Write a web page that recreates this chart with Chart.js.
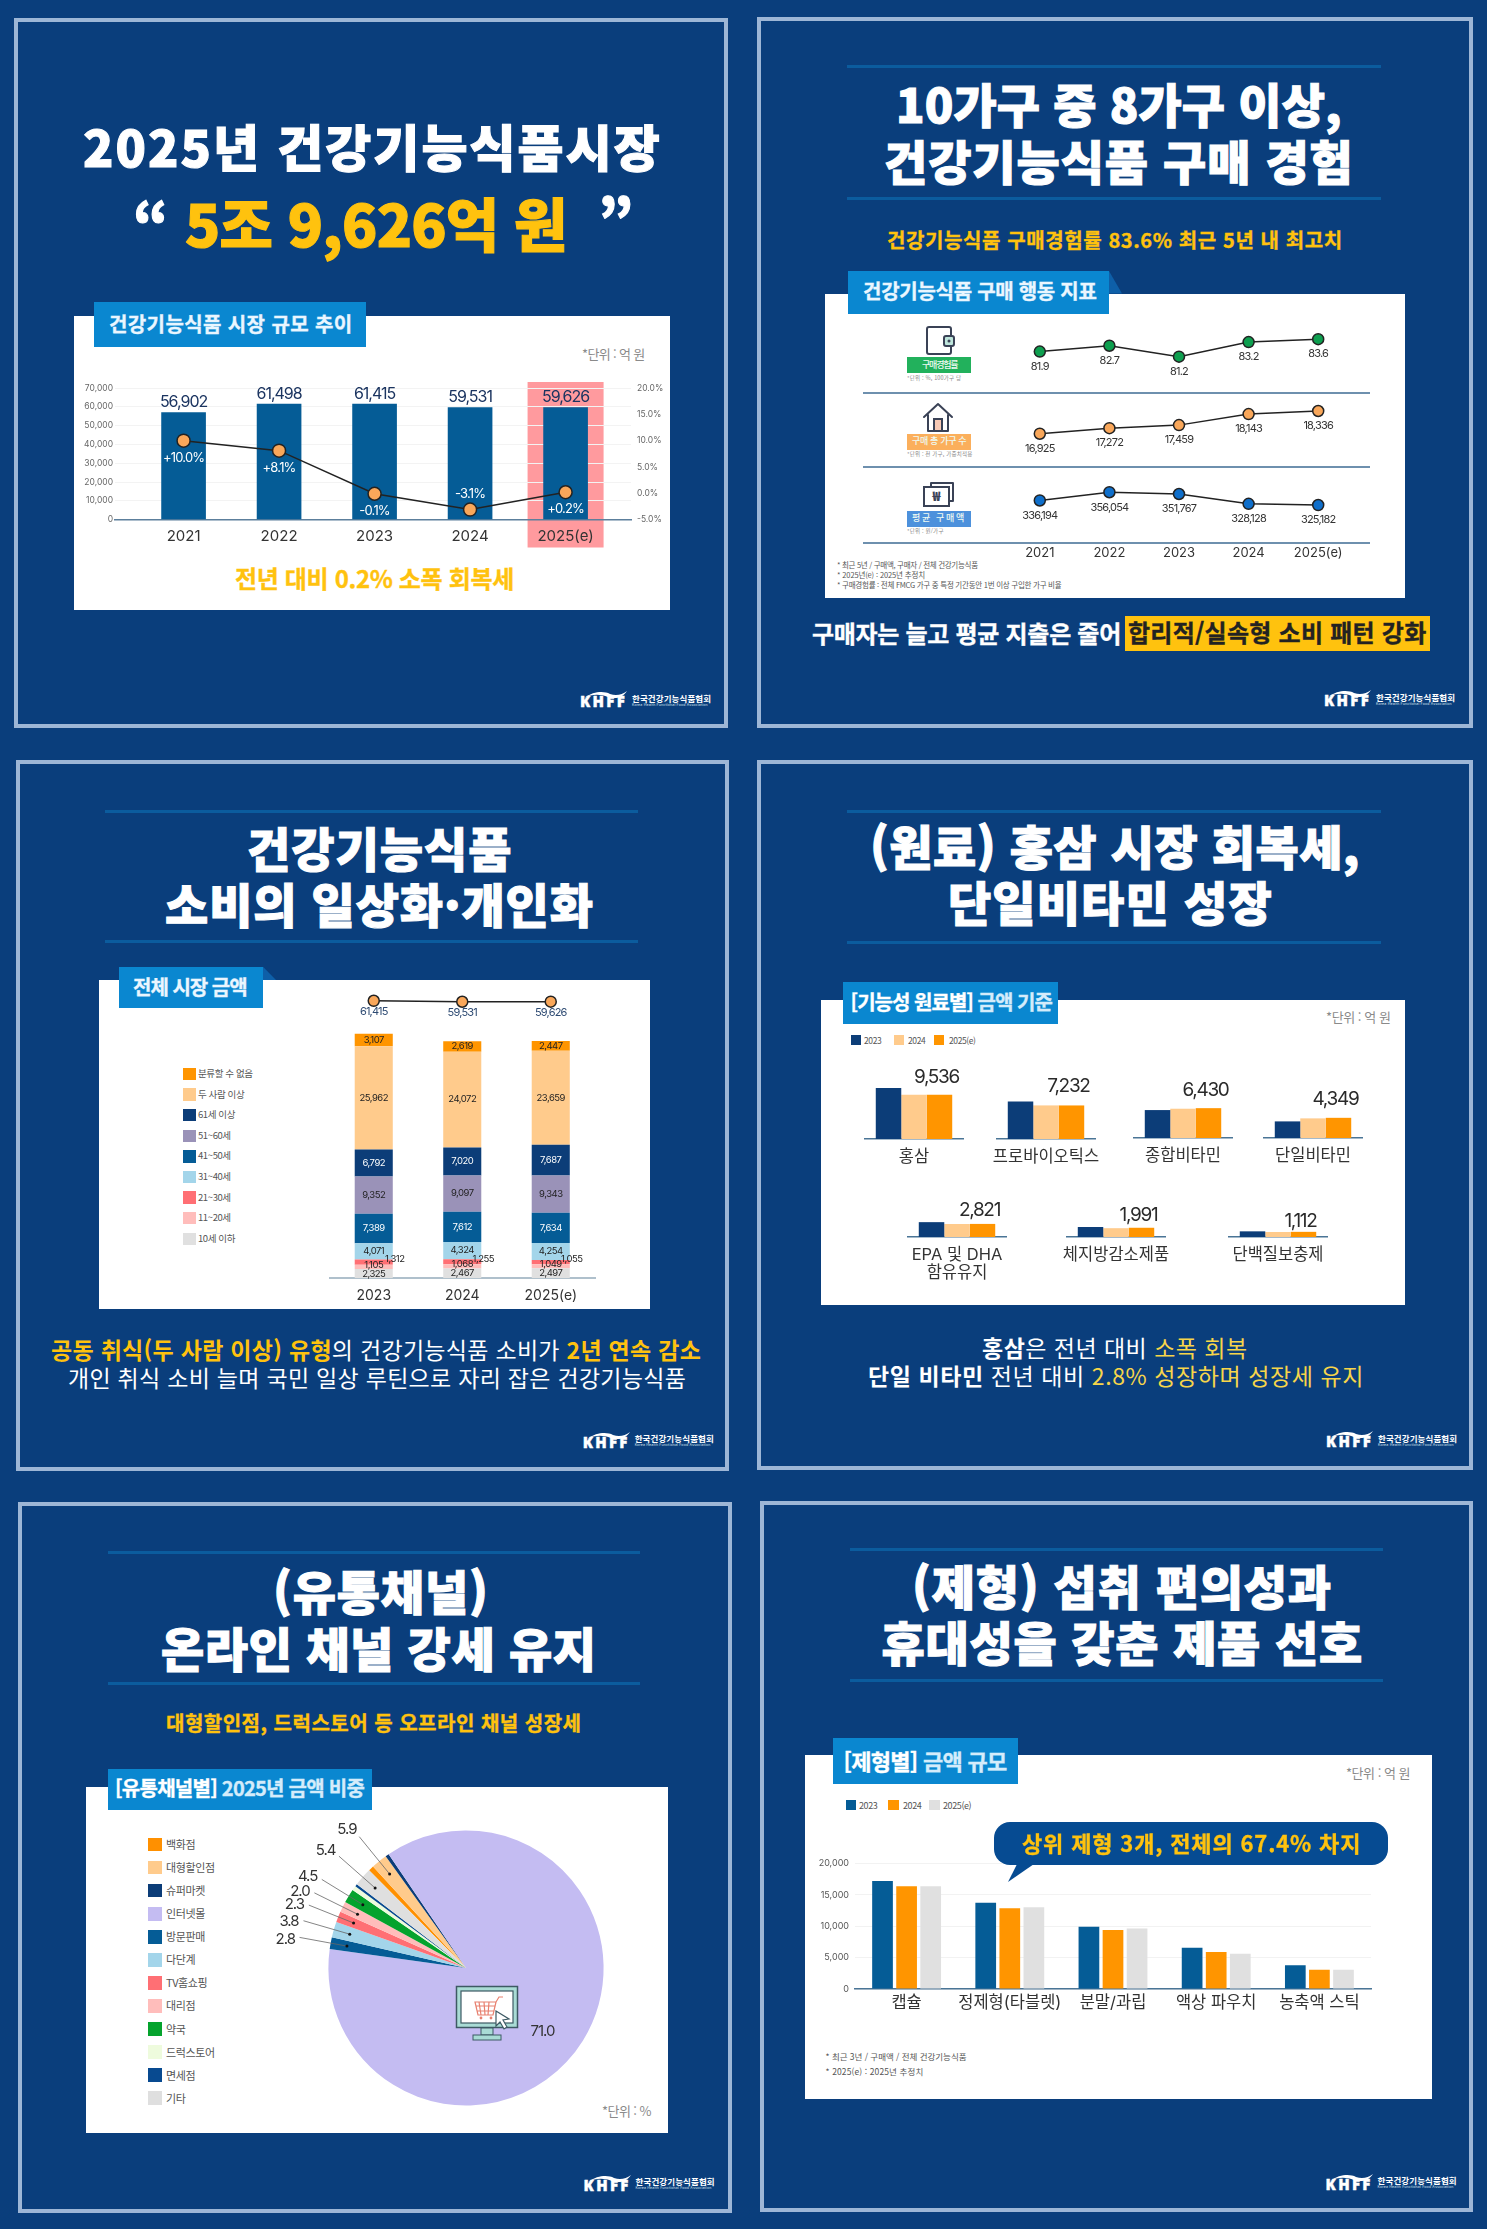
<!DOCTYPE html>
<html lang="ko">
<head>
<meta charset="utf-8">
<title>건강기능식품 시장</title>
<script src="https://cdn.jsdelivr.net/npm/chart.js@4"></script>
<style>
  html, body { margin: 0; padding: 0; background: #0a3e7c; overflow: hidden; }
  #page { position: relative; width: 1487px; height: 2229px; overflow: hidden; background: #0a3e7c;
          font-family: Inter, "Noto Sans CJK KR", sans-serif; }
  #page > * { position: absolute; }
  .t { white-space: nowrap; line-height: 1; }
  .kr { font-family: "Noto Sans CJK KR", sans-serif; }
</style>
</head>
<body>
<div id="page"></div>
<script>
// panel 1: market size
const marketYears = ['2021', '2022', '2023', '2024', '2025(e)']
const marketValues = [56902, 61498, 61415, 59531, 59626]
const marketGrowth = [10.0, 8.1, -0.1, -3.1, 0.2]

// panel 2: purchase behaviour
const behaviourYears = ['2021', '2022', '2023', '2024', '2025(e)']
const purchaseRate = [81.9, 82.7, 81.2, 83.2, 83.6]
const purchaseHouseholds = [16925, 17272, 17459, 18143, 18336]
const purchaseAmount = [336194, 356054, 351767, 328128, 325182]

// panel 3: market by household age, legend order
const ageYears = ['2023', '2024', '2025(e)']
const ageTotals = [61415, 59531, 59626]
const ageNames = ['분류할 수 없음', '두 사람 이상', '61세 이상', '51~60세', '41~50세', '31~40세', '21~30세', '11~20세', '10세 이하']
const ageUnknown = [3107, 2619, 2447]
const ageTwoPlus = [25962, 24072, 23659]
const age61 = [6792, 7020, 7687]
const age51 = [9352, 9097, 9343]
const age41 = [7389, 7612, 7634]
const age31 = [4071, 4324, 4254]
const age21 = [1312, 1255, 1055]
const age11 = [1105, 1068, 1049]
const age10 = [2325, 2467, 2497]

const ingredientNames = ['홍삼', '프로바이오틱스', '종합비타민', '단일비타민', ['EPA 및 DHA', '함유유지'], '체지방감소제품', '단백질보충제']
const ingredient2023 = [11000, 8100, 6020, 3580, 3200, 2150, 1220]
const ingredient2024 = [9540, 7240, 6310, 4230, 2800, 1900, 1080]
const ingredient2025 = [9536, 7232, 6430, 4349, 2821, 1991, 1112]

// panel 5: channels. The picture's slices are not proportional to the printed shares,
// so the printed numbers and the measured slice angles are kept apart
const channelNames = ['백화점', '대형할인점', '슈퍼마켓', '인터넷몰', '방문판매', '다단계', 'TV홈쇼핑', '대리점', '약국', '드럭스토어', '면세점', '기타']
const channelShares = [null, 5.9, null, 71.0, 2.8, 3.8, 2.3, 2.0, 4.5, null, null, 5.4]
const channelSliceDegrees = [2.3, 6.8, 1.5, 312.3, 5.0, 6.6, 4.6, 4.5, 5.9, 2.0, 1.0, 7.7]
const channelColors = ['#ff9000', '#ffcb8c', '#0c3d78', '#c4bcf2', '#055c96', '#a3d5ea', '#ff6f74', '#ffbdbb', '#05a32d', '#eefbdd', '#084a90', '#dfdfdf']

// panel 6: product forms
const formNames = ['캡슐', '정제형(타블렛)', '분말/과립', '액상 파우치', '농축액 스틱']
const form2023 = [17200, 13750, 9900, 6550, 3800]
const form2024 = [16350, 12850, 9400, 5900, 3050]
const form2025 = [16350, 13000, 9650, 5600, 3050]

const FONT = 'Inter, "Noto Sans CJK KR", sans-serif'
const NAVY = '#0c3d78', BLUE = '#055c96', ORANGE = '#ff9500', PEACH = '#ffcb8c', GREY = '#e0e0e0'
const YELLOW = '#ffc20e', TAB = '#0a87d0', RULE = '#0b5c9e', FRAME = '#9db6d6'
const page = document.getElementById('page')
const fmt = v => v.toLocaleString('en-US')

Chart.defaults.font.family = FONT
Chart.defaults.animation = false
Chart.defaults.layout.autoPadding = false

// draws the printed numbers next to the marks, ds.valueLabels holds the texts
Chart.register({
  id: 'valueLabels',
  afterDatasetsDraw(chart) {
    const c = chart.ctx
    chart.data.datasets.forEach((ds, i) => {
      const o = ds.valueLabels
      if (!o) return
      chart.getDatasetMeta(i).data.forEach((el, k) => {
        if (o.texts[k] == null) return
        const base = o.center ? (el.y + el.base) / 2 : el.y
        const dy = Array.isArray(o.dy) ? o.dy[k] : (o.dy || 0)
        c.save()
        c.font = `${o.weight || 400} ${o.size}px ${FONT}`
        c.letterSpacing = (o.spacing === undefined ? -0.8 : o.spacing) + 'px'
        c.fillStyle = Array.isArray(o.color) ? o.color[k] : o.color
        c.textAlign = 'center'
        c.textBaseline = 'middle'
        c.fillText(o.texts[k], el.x + (o.dx || 0), base + dy)
        c.restore()
      })
    })
  }
})

function box(x1, y1, x2, y2, color, extra) {
  const d = document.createElement('div')
  d.style.cssText = `left:${x1}px;top:${y1}px;width:${x2 - x1}px;height:${y2 - y1}px;background:${color};${extra || ''}`
  page.appendChild(d)
  return d
}

// places text so that it runs from x1 to x2, the tracking takes up the difference
function text(html, x1, x2, cy, size, color, weight, family) {
  const s = document.createElement('div')
  s.className = 't'
  s.innerHTML = html
  const w = weight || 400
  // the heaviest installed cut is lighter than the poster's, so thicken it a little
  const thick = w >= 900 ? 1.1 : (w >= 700 && size > 12 ? 0.35 : 0)
  s.style.cssText = `font-size:${size}px;color:${color};font-weight:${w};` +
    `font-family:${family || '"Noto Sans CJK KR", sans-serif'};left:${x1}px;` +
    (thick ? `-webkit-text-stroke:${thick}px currentColor;` : '')
  page.appendChild(s)
  const n = s.textContent.length
  s.style.letterSpacing = ((x2 - x1 - s.offsetWidth) / n) + 'px'
  s.style.top = (cy - s.offsetHeight / 2 - size * 0.07) + 'px'
  return s
}

function svg(x, y, w, h, inner) {
  const d = document.createElement('div')
  d.style.cssText = `left:${x}px;top:${y}px;width:${w}px;height:${h}px;`
  d.innerHTML = `<svg width="${w}" height="${h}" viewBox="0 0 ${w} ${h}">${inner}</svg>`
  page.appendChild(d)
}

function frame(x1, y1, x2, y2) {
  box(x1, y1, x2, y2, 'transparent', `box-sizing:border-box;border:4px solid ${FRAME};`)
}

function rules(x1, x2, y1, y2) {
  box(x1, y1 - 1.5, x2, y1 + 1.5, RULE)
  box(x1, y2 - 1.5, x2, y2 + 1.5, RULE)
}

function logo(x, cy) {
  svg(x, cy - 18, 48, 10, `<path d="M4 8 C14 1 24 1 30 4 C36 6 42 5 47 1 C42 9 34 9 28 7 C20 4 12 4 4 8Z" fill="#fff"/>`)
  text('KHFF', x, x + 47, cy + 1, 15, '#fff', 800, '"Open Sans", sans-serif')
  text('한국건강기능식품협회', x + 52, x + 131, cy - 3, 8.5, '#fff', 700)
  text('Korea Health Functional Food Association', x + 52, x + 128, cy + 4, 3.5, '#dfe8f2', 400, FONT)
}

function tab(x1, y1, x2, y2, foldHeight) {
  if (foldHeight) box(x2, y1, x2 + 13, y1 + foldHeight, '#0e5fa8', 'clip-path:polygon(0 0,100% 100%,0 100%);')
  box(x1, y1, x2, y2, TAB)
}

function legendItem(x, cy, size, label, color, tx, fontSize) {
  box(x, cy - size / 2, x + size, cy + size / 2, color)
  const s = document.createElement('div')
  s.className = 't kr'
  s.textContent = label
  s.style.cssText = `left:${tx}px;font-size:${fontSize}px;color:#555;letter-spacing:-0.4px;`
  page.appendChild(s)
  s.style.top = (cy - s.offsetHeight / 2) + 'px'
}

function chartAt(x, y, w, h, config) {
  const canvas = document.createElement('canvas')
  canvas.width = w
  canvas.height = h
  canvas.style.cssText = `left:${x}px;top:${y}px;width:${w}px;height:${h}px;`
  page.appendChild(canvas)
  config.options = Object.assign({ responsive: false, events: [] }, config.options)
  config.options.plugins = Object.assign({ legend: { display: false }, tooltip: { enabled: false } }, config.options.plugins)
  return new Chart(canvas, config)
}

/* ---------- panel 1 ---------- */
frame(14, 18, 728, 728)
text('2025년 건강기능식품시장', 83, 662, 148.7, 50, '#fff', 900)
text('“', 133, 158, 224, 56, '#fff', 900)
text('5조 9,626억 원', 185, 567, 225.6, 58, YELLOW, 900)
text('”', 598, 623, 220, 56, '#fff', 900)
box(73.5, 316, 670, 610, '#fff')
tab(93.5, 302, 366, 347)
text('건강기능식품 시장 규모 추이', 109, 353, 325, 20, '#eaf6ff', 700)
text('*단위 : 억 원', 582, 644, 354, 13, '#8a8a8a')
text('전년 대비 0.2% 소폭 회복세', 235, 514, 579.5, 24, YELLOW, 700)
logo(580, 702)

chartAt(74, 370, 596, 180, {
  data: {
    datasets: [
      {
        type: 'line', yAxisID: 'y1', order: 1, clip: false,
        data: marketGrowth.map((v, i) => ({ x: i, y: v })),
        borderColor: '#222', borderWidth: 1.5, tension: 0,
        pointRadius: 6.5, pointBackgroundColor: '#f9a75a', pointBorderColor: '#222', pointBorderWidth: 1.5,
        valueLabels: { texts: marketGrowth.map(v => (v > 0 ? '+' : '') + v.toFixed(1) + '%'), size: 13, color: '#fff', dy: [17, 17, 17.5, -16, 17] }
      },
      {
        type: 'bar', yAxisID: 'y', order: 2,
        data: marketValues.map((v, i) => ({ x: i, y: v })),
        backgroundColor: BLUE, barThickness: 44,
        valueLabels: { texts: marketValues.map(fmt), size: 16, color: '#1b3460', dy: -10, spacing: -1 }
      }
    ]
  },
  options: {
    layout: { padding: { top: 18 } },
    scales: {
      x: {
        type: 'linear', offset: false, min: -0.718, max: 4.685,
        grid: { display: false, drawTicks: false }, border: { color: '#5c7f9c', width: 1.5 },
        ticks: { stepSize: 1, includeBounds: false, maxRotation: 0, padding: 8, color: '#333', font: { size: 15 }, callback: v => marketYears[v] },
        afterFit(s) { s.height = 30.4 }
      },
      y: {
        min: 0, max: 70000, position: 'left',
        grid: { color: '#f3f3f3', drawTicks: false }, border: { display: false },
        ticks: { stepSize: 10000, padding: 2, color: '#666', font: { size: 8.5 }, callback: fmt },
        afterFit(s) { s.width = 41 }
      },
      y1: {
        min: -5, max: 20, position: 'right',
        grid: { display: false, drawTicks: false }, border: { display: false },
        ticks: { stepSize: 5, padding: 6, color: '#666', font: { size: 8.5 }, callback: v => v.toFixed(1) + '%' },
        afterFit(s) { s.width = 39 }
      }
    }
  },
  plugins: [{
    id: 'highlight2025',
    beforeDraw(chart) {
      const x = chart.scales.x.getPixelForValue(4)
      chart.ctx.fillStyle = '#ff9a9e'
      chart.ctx.fillRect(x - 38, chart.chartArea.top - 6, 76, 165.5)
    }
  }]
})

/* ---------- panel 2 ---------- */
frame(757, 17, 1473, 728)
rules(847, 1381, 66, 198)
text('10가구 중 8가구 이상,', 896, 1342, 106, 47, '#fff', 900)
text('건강기능식품 구매 경험', 884, 1354, 163, 47, '#fff', 900)
text('건강기능식품 구매경험률 83.6% 최근 5년 내 최고치', 887, 1343, 241.6, 20, YELLOW, 700)
box(825, 293.5, 1405, 598, '#fff')
tab(848, 271, 1109, 314, 22.5)
text('건강기능식품 구매 행동 지표', 863, 1097, 292.6, 20, '#eaf6ff', 700)

const stroke = 'fill="none" stroke="#3a4256" stroke-width="2" stroke-linejoin="round" stroke-linecap="round"'
svg(925, 326, 31, 30, `<path d="M4 1h20a2 2 0 0 1 2 2v23a2 2 0 0 1-2 2H4a2 2 0 0 1-2-2V3a2 2 0 0 1 2-2Z" ${stroke}/><rect x="19" y="10" width="10" height="10" rx="2" fill="#bfe6dc" stroke="#3a4256" stroke-width="2"/><circle cx="24" cy="15" r="1.5" fill="#3a4256"/>`)
svg(922, 402, 32, 31, `<path d="M2 15 L16 2 L30 15 M6 13 V29 H26 V13" ${stroke}/><rect x="12" y="17" width="8" height="12" fill="#f7c9b5" stroke="#3a4256" stroke-width="2"/>`)
svg(922, 481, 33, 27, `<path d="M9 5V2H31V20H27" ${stroke}/><rect x="2" y="6" width="25" height="19" fill="#fff" stroke="#3a4256" stroke-width="2"/><text x="14.5" y="20" font-size="13" font-weight="900" text-anchor="middle" fill="#3a4256" font-family="Noto Sans CJK KR">₩</text>`)
const rowNotes = [
  ['구매경험률', '#22b15c', 357, '*단위 : %, 100가구 당', 54],
  ['구매 총 가구 수', '#fbaf5c', 433.5, '*단위 : 천 가구, 가중치적용', 65],
  ['평균 구매액', '#4d91dc', 510.5, '*단위 : 원/가구', 37]
]
rowNotes.forEach(r => {
  box(907, r[2], 971, r[2] + 16, r[1])
  text(r[0], 922 + (r[0].length > 5 ? -10 : 0), 957 + (r[0].length > 5 ? 9 : 0), r[2] + 8, 9, '#eefaf2', 500)
  text(r[3], 907, 907 + r[4], r[2] + 22, 5.5, '#888')
})
;[392.7, 467.3, 543.3].forEach(y => box(863, y - 1, 1370, y + 1, '#6e90ae'))
text('* 최근 5년 / 구매액, 구매자 / 전체 건강기능식품', 837, 978, 565.4, 7.5, '#555')
text('* 2025년(e) : 2025년 추정치', 837, 925, 575.7, 7.5, '#555')
text('* 구매경험률 : 전체 FMCG 가구 중 특정 기간동안 1번 이상 구입한 가구 비율', 837, 1061, 585.7, 7.5, '#555')
text('구매자는 늘고 평균 지출은 줄어', 812, 1121, 634.7, 24, '#fff', 700)
box(1125, 616, 1430, 651, YELLOW)
text('합리적/실속형 소비 패턴 강화', 1128, 1426, 634, 24, '#222', 700)
logo(1324, 701)

function behaviourRow(y, h, values, min, max, color, labels, withAxis) {
  chartAt(965, y, 428, h + (withAxis ? 22 : 0), {
    type: 'line',
    data: {
      labels: behaviourYears,
      datasets: [{
        data: values, clip: false, tension: 0,
        borderColor: '#222', borderWidth: 1.5,
        pointRadius: 5.5, pointBackgroundColor: color, pointBorderColor: '#222', pointBorderWidth: 1.5,
        valueLabels: { texts: labels, size: 11, color: '#333', dy: 15 }
      }]
    },
    options: {
      layout: { padding: { left: 40, right: 40 } },
      scales: {
        x: {
          display: !!withAxis, offset: true, grid: { display: false, drawTicks: false }, border: { display: false },
          ticks: { padding: 2, color: '#333', font: { size: 13 } },
          afterFit(s) { if (withAxis) s.height = 22 }
        },
        y: { display: false, min, max }
      }
    }
  })
}
behaviourRow(326, 65, purchaseRate, 76.5, 85.4, '#0e9f4f', purchaseRate.map(v => v.toFixed(1)))
behaviourRow(392, 75, purchaseHouseholds, 14858, 19516, '#f9a75a', purchaseHouseholds.map(fmt))
behaviourRow(468, 75, purchaseAmount, 233700, 414400, '#0f6fcb', purchaseAmount.map(fmt), true)

/* ---------- panel 3 ---------- */
frame(16, 760, 729, 1471)
rules(105, 638, 811.5, 941.8)
text('건강기능식품', 247, 512, 849.8, 47, '#fff', 900)
text('소비의 일상화·개인화', 165, 594, 905.5, 47, '#fff', 900)
box(98.7, 980, 650.5, 1309.4, '#fff')
tab(119, 966.8, 263, 1008.3, 13.2)
text('전체 시장 금액', 133, 247, 988.5, 20, '#eaf6ff', 700)
const ageColors = [ORANGE, PEACH, NAVY, '#9a92b8', BLUE, '#a3d5ea', '#ff6f74', '#ffbdbb', GREY]
ageNames.forEach((n, i) => legendItem(183, 1074 + i * 20.6, 12.5, n, ageColors[i], 198, 9.5))
text(`<b style="color:${YELLOW}">공동 취식(두 사람 이상) 유형</b>의 건강기능식품 소비가 <b style="color:${YELLOW}">2년 연속 감소</b>`, 51, 701, 1351.4, 23, '#fff', 400)
text('개인 취식 소비 늘며 국민 일상 루틴으로 자리 잡은 건강기능식품', 68, 686, 1378.8, 23, '#fff', 400)
logo(582.7, 1442.5)

const segment = (values, color, labelColor, extra) => Object.assign({
  type: 'bar', yAxisID: 'y', order: 2, data: values, backgroundColor: color,
  categoryPercentage: 0.86, barPercentage: 0.5,
  valueLabels: Object.assign({ texts: values.map(fmt), size: 9.5, color: labelColor, center: true, spacing: -0.5 }, extra)
})
chartAt(320, 990, 290, 320, {
  data: {
    labels: ageYears,
    datasets: [
      {
        type: 'line', yAxisID: 'y2', order: 1, data: ageTotals, clip: false, tension: 0,
        borderColor: '#222', borderWidth: 1.5,
        pointRadius: 5.5, pointBackgroundColor: '#f9a75a', pointBorderColor: '#222', pointBorderWidth: 1.5,
        valueLabels: { texts: ageTotals.map(fmt), size: 11, color: '#2d4a72', dy: 11 }
      },
      segment(age10, GREY, '#222'),
      segment(age11, '#ffbdbb', '#222', { dy: -2 }),
      segment(age21, '#ff6f74', '#222', { dx: 21, dy: -3 }),
      segment(age31, '#a3d5ea', '#222'),
      segment(age41, BLUE, '#fff'),
      segment(age51, '#9a92b8', '#222'),
      segment(age61, NAVY, '#fff'),
      segment(ageTwoPlus, PEACH, '#222'),
      segment(ageUnknown, ORANGE, '#222')
    ]
  },
  options: {
    layout: { padding: { top: 5, left: 9.5, right: 15 } },
    scales: {
      x: {
        stacked: true, grid: { display: false, drawTicks: false }, border: { color: '#afc0cc', width: 2 },
        ticks: { padding: 9, color: '#333', font: { size: 14 } },
        afterFit(s) { s.height = 31.7 }
      },
      y: { stacked: true, display: false, min: 0, max: 71160 },
      y2: { display: false, min: -493600, max: 73000 }
    }
  }
})

/* ---------- panel 4 ---------- */
frame(757, 760, 1473, 1470)
rules(847, 1381, 811.5, 942.3)
text('(원료) 홍삼 시장 회복세,', 870, 1360, 847.4, 47, '#fff', 900)
text('단일비타민 성장', 948, 1273, 904, 47, '#fff', 900)
box(821, 1000.3, 1405, 1305, '#fff')
tab(843.4, 982, 1058, 1024)
text('[기능성 원료별] <span style="color:#d4ecfb">금액 기준</span>', 850.6, 1052, 1003.6, 20, '#fff', 700)
text('*단위 : 억 원', 1326, 1390, 1017.3, 13, '#8a8a8a')
legendItem(851, 1040, 10, '2023', NAVY, 864, 8.5)
legendItem(894, 1040, 10, '2024', PEACH, 908, 8.5)
legendItem(934, 1040, 10, '2025(e)', ORANGE, 949, 8.5)
text('<b>홍삼</b>은 전년 대비 <span style="color:#f7d54a">소폭 회복</span>', 982, 1248, 1349.5, 23, '#fff', 400)
text('<b>단일 비타민</b> 전년 대비 <span style="color:#f7d54a">2.8% 성장하며 성장세 유지</span>', 868, 1364, 1377.4, 23, '#fff', 400)
logo(1326, 1442)

const ingredientSpots = [[914, 1139.3], [1046, 1138.7], [1183, 1138], [1313, 1138.3], [957, 1237.3], [1116, 1236.7], [1278, 1236.7]]
const ingredientLabelGap = [-17, -19, -18, -19, -14, -12, -11]
ingredientNames.forEach((name, i) => {
  const [cx, baseline] = ingredientSpots[i]
  chartAt(cx - 80, baseline - 77, 160, 127, {
    type: 'bar',
    data: {
      labels: [name],
      datasets: [
        { data: [ingredient2023[i]], backgroundColor: NAVY },
        { data: [ingredient2024[i]], backgroundColor: PEACH },
        {
          data: [ingredient2025[i]], backgroundColor: ORANGE,
          valueLabels: { texts: [fmt(ingredient2025[i])], size: 19, color: '#2a2a2a', dy: ingredientLabelGap[i], dx: -3, spacing: -1.3 }
        }
      ]
    },
    options: {
      layout: { padding: { left: 31, right: 31, top: 15 } },
      datasets: { bar: { categoryPercentage: 0.78, barPercentage: 1 } },
      scales: {
        x: {
          grid: { display: false, drawTicks: false }, border: { color: '#4a7596', width: 1.5 },
          ticks: { padding: 9, maxRotation: 0, autoSkip: false, color: '#333', font: { size: 16.5, lineHeight: 1.08 } },
          afterFit(s) { s.height = 50 }
        },
        y: { display: false, min: 0, max: 13362 }
      }
    }
  })
})

/* ---------- panel 5 ---------- */
frame(18, 1502, 732, 2213)
rules(108, 640, 1552.3, 1683)
text('(유통채널)', 273, 489, 1593, 47, '#fff', 900)
text('온라인 채널 강세 유지', 161, 597, 1649.6, 47, '#fff', 900)
text('대형할인점, 드럭스토어 등 오프라인 채널 성장세', 166, 582, 1724, 20, YELLOW, 700)
box(86, 1786.5, 668, 2133, '#fff')
tab(108, 1769, 372, 1810)
text('[유통채널별] <span style="color:#d4ecfb">2025년 금액 비중</span>', 115, 364, 1789.8, 20, '#fff', 700)
text('*단위 : %', 602, 651, 2111.8, 13, '#8a8a8a')
channelNames.forEach((n, i) => legendItem(148, 1844.6 + i * 23.05, 13.5, n, channelColors[i], 166, 11))
logo(583.6, 2185.5)

chartAt(256, 1758, 420, 420, {
  type: 'pie',
  data: {
    labels: channelNames,
    datasets: [{ data: channelSliceDegrees, backgroundColor: channelColors, borderWidth: 0, radius: 137.6 }]
  },
  options: { rotation: -44.8 },
  plugins: [{
    id: 'shareLeaders',
    afterDatasetsDraw(chart) {
      const c = chart.ctx
      chart.getDatasetMeta(0).data.forEach((arc, i) => {
        const share = channelShares[i]
        if (share === null) return
        c.save()
        c.font = `400 15px ${FONT}`
        c.letterSpacing = '-1px'
        c.fillStyle = '#333'
        c.textAlign = 'center'
        c.textBaseline = 'middle'
        if (share > 50) {
          c.fillText(share.toFixed(1), arc.x + 76.4, arc.y + 63.5)
        } else {
          const mid = (arc.startAngle + arc.endAngle) / 2
          const r = arc.outerRadius
          const at = (rad, a) => [arc.x + Math.cos(a) * rad, arc.y + Math.sin(a) * rad]
          const [lx, ly] = at(r * 1.33, mid - 0.026)
          c.fillText(share.toFixed(1), lx, ly)
          const [x1, y1] = at(r * 1.23, mid)
          const [x2, y2] = at(r * 0.88, mid)
          c.strokeStyle = '#666'
          c.lineWidth = 0.8
          c.beginPath()
          c.moveTo(x1, y1)
          c.lineTo(x2, y2)
          c.stroke()
          c.fillStyle = '#111'
          c.beginPath()
          c.arc(x2, y2, 1.5, 0, Math.PI * 2)
          c.fill()
        }
        c.restore()
      })
    }
  }]
})

// monitor with a shopping cart
svg(455, 1985, 66, 56, `
  <rect x="1.5" y="1.5" width="61" height="41" fill="#a9dcd5" stroke="#3d5a64" stroke-width="1.5"/>
  <rect x="6" y="6" width="52" height="32" fill="#fff" stroke="#3d5a64" stroke-width="1.2"/>
  <rect x="26" y="43" width="12" height="7" fill="#a9dcd5" stroke="#3d5a64" stroke-width="1"/>
  <rect x="18" y="50" width="28" height="5" fill="#a9dcd5" stroke="#3d5a64" stroke-width="1"/>
  <path d="M20 17h21l-3 13H23Z M24 17l2 13 M29 17l1 13 M34 17l-1 13 M21 21h19 M22 26h17 M41 17l3-5h4" fill="none" stroke="#e8806f" stroke-width="1.2"/>
  <circle cx="26" cy="33" r="1.4" fill="#e8806f"/><circle cx="36" cy="33" r="1.4" fill="#e8806f"/>
  <path d="M41 26l13 8-6 1 4 7-3 2-4-7-4 4Z" fill="#fff" stroke="#3d5a64" stroke-width="1.2"/>`)

/* ---------- panel 6 ---------- */
frame(760, 1501, 1473, 2212)
rules(850, 1382.5, 1549.5, 1680)
text('(제형) 섭취 편의성과', 912, 1332, 1588.2, 47, '#fff', 900)
text('휴대성을 갖춘 제품 선호', 881.6, 1363, 1643.4, 47, '#fff', 900)
box(805, 1755.3, 1432, 2099, '#fff')
tab(833, 1738, 1018, 1783.7)
text('[제형별] <span style="color:#d4ecfb">금액 규모</span>', 843.6, 1007, 1761.5, 22, '#fff', 700)
text('*단위 : 억 원', 1346, 1409.5, 1773.3, 13, '#8a8a8a')
legendItem(845.5, 1805, 10.5, '2023', BLUE, 859, 9)
legendItem(888, 1805, 10.5, '2024', ORANGE, 903, 9)
legendItem(929, 1805, 10.5, '2025(e)', GREY, 943, 9)
text('* 최근 3년 / 구매액 / 전체 건강기능식품', 825.6, 967, 2057, 8.5, '#555')
text('* 2025(e) : 2025년 추정치', 825.6, 923, 2072, 8.5, '#555')
logo(1325.6, 2184.5)

chartAt(810, 1852, 590, 168, {
  type: 'bar',
  data: {
    labels: formNames,
    datasets: [
      { data: form2023, backgroundColor: BLUE },
      { data: form2024, backgroundColor: ORANGE },
      { data: form2025, backgroundColor: GREY }
    ]
  },
  options: {
    layout: { padding: { top: 10, right: 29 } },
    datasets: { bar: { categoryPercentage: 0.7, barPercentage: 0.86 } },
    scales: {
      x: {
        grid: { display: false, drawTicks: false }, border: { color: '#4a7596', width: 1.5 },
        ticks: { padding: 4, maxRotation: 0, autoSkip: false, color: '#333', font: { size: 16.5 } },
        afterFit(s) { s.height = 31 }
      },
      y: {
        min: 0, max: 20000,
        grid: { color: '#f2f2f2', drawTicks: false }, border: { display: false },
        ticks: { stepSize: 5000, padding: 6, color: '#555', font: { size: 9 }, callback: fmt },
        afterFit(s) { s.width = 45 }
      }
    }
  }
})

// callout over the chart
box(994, 1821.5, 1388, 1865.4, '#064b92', 'border-radius:16px;')
box(1008, 1864, 1034, 1882, '#064b92', 'clip-path:polygon(0 100%,35% 0,100% 0);')
text('상위 제형 3개, 전체의 67.4% 차지', 1022, 1361.6, 1844, 22, YELLOW, 700)
</script>
</body>
</html>
